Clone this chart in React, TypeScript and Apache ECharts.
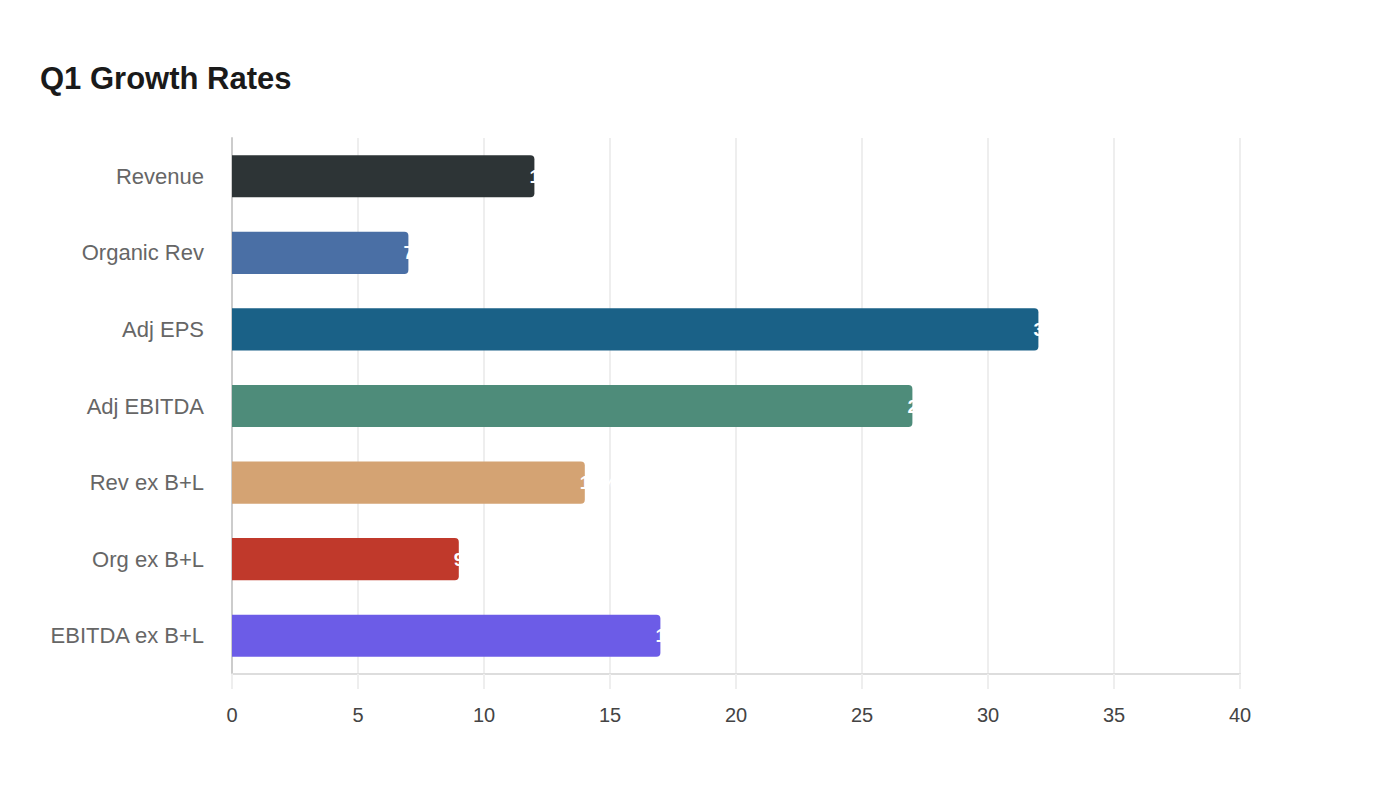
import React, { useEffect, useRef } from 'react';
import * as echarts from 'echarts';

const categories = [
  'Revenue',
  'Organic Rev',
  'Adj EPS',
  'Adj EBITDA',
  'Rev ex B+L',
  'Org ex B+L',
  'EBITDA ex B+L',
];
const growthValues = [12, 7, 32, 27, 14, 9, 17];
const barColors = ['#2d3436', '#4a6fa5', '#1a6187', '#4e8c7a', '#d4a373', '#c0392b', '#6c5ce7'];
const FONT = '"Liberation Sans", Arial, Helvetica, sans-serif';

export default function App() {
  const chartRef = useRef<HTMLDivElement>(null);

  useEffect(() => {
    document.body.style.margin = '0';
    if (!chartRef.current) return;
    const chart = echarts.init(chartRef.current, undefined, { renderer: 'svg' });

    chart.setOption({
      animation: false,
      backgroundColor: '#ffffff',
      textStyle: { fontFamily: FONT },
      title: {
        text: 'Q1 Growth Rates',
        left: 40,
        top: 63,
        padding: 0,
        textStyle: { fontSize: 31, fontWeight: 'bold', color: '#1a1a1a', fontFamily: FONT },
      },
      grid: { left: 232, right: 160, top: 138, bottom: 126, containLabel: false },
      xAxis: {
        type: 'value',
        min: 0,
        max: 40,
        interval: 5,
        axisLine: { show: true, lineStyle: { color: '#dddddd', width: 2 } },
        axisTick: { show: true, length: 15, lineStyle: { color: '#eeeeee', width: 2 } },
        axisLabel: { color: '#444444', fontSize: 20, margin: 31, fontFamily: FONT },
        splitLine: { show: true, lineStyle: { color: '#eeeeee', width: 2 } },
      },
      yAxis: {
        type: 'category',
        data: categories,
        inverse: true,
        axisLine: { show: true, lineStyle: { color: '#cccccc', width: 2 } },
        axisTick: { show: false },
        axisLabel: { color: '#666666', fontSize: 22, margin: 28, fontFamily: FONT },
      },
      series: [
        {
          type: 'bar',
          barWidth: '55%',
          data: growthValues.map((v, i) => ({
            value: v,
            itemStyle: { color: barColors[i], borderRadius: [0, 4, 4, 0] },
          })),
          label: {
            show: true,
            position: 'right',
            distance: -5,
            formatter: '{c}%',
            color: '#ffffff',
            fontSize: 19,
            fontWeight: 'bold',
            fontFamily: FONT,
          },
        },
      ],
    });

    return () => {
      chart.dispose();
    };
  }, []);

  return <div ref={chartRef} style={{ width: 1400, height: 800 }} />;
}
